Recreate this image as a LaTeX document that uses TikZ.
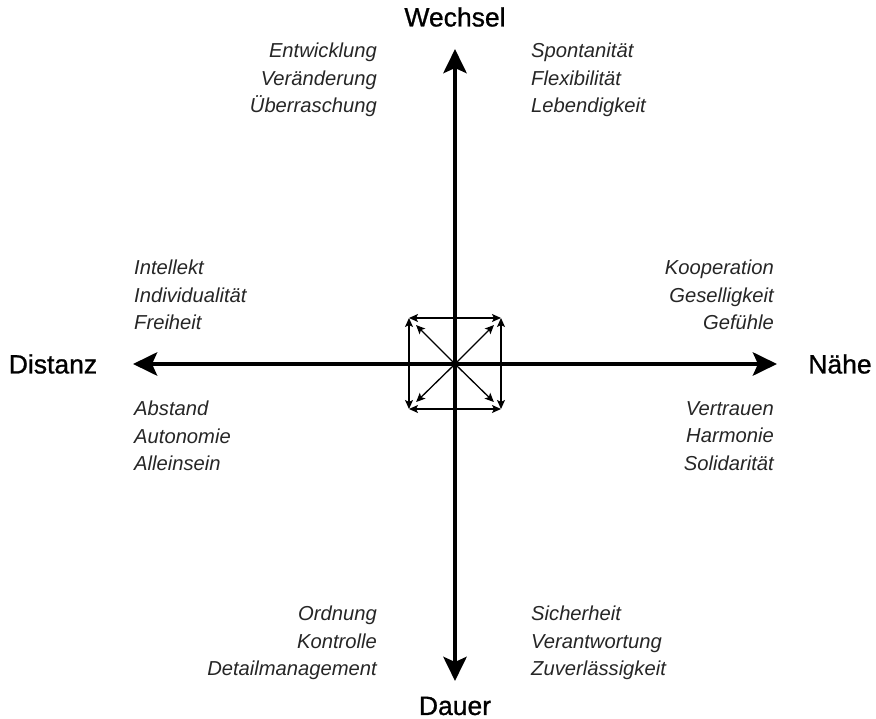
\documentclass[tikz,border=0pt]{standalone}
\usepackage{fontspec}
\setmainfont{Liberation Sans}
\newfontfamily\polefont[FakeBold=0.9]{Liberation Sans}
\usetikzlibrary{arrows.meta}
\begin{document}
\begin{tikzpicture}[x=1pt,y=-1pt,
  axis/.style={line width=4.8pt,-{Stealth[length=24pt,width=23pt,inset=5pt]}},
  small/.style={line width=1.3pt,{Stealth[length=9pt,width=8pt,inset=2pt]}-{Stealth[length=9pt,width=8pt,inset=2pt]}},
  smalldiag/.style={line width=1.3pt,-{Stealth[length=9pt,width=8pt,inset=2pt]}},
  title/.style={font=\polefont\fontsize{26.5}{30}\selectfont, inner sep=0pt},
  words/.style={font=\fontsize{20.2}{27.5}\selectfont\itshape, inner sep=0pt, text=black!85}]
\useasboundingbox (0,0) rectangle (876,719);

% axis ends
\coordinate (c) at (455,364);
\coordinate (top) at (455,49);
\coordinate (bot) at (455,681);
\coordinate (lft) at (133,364);
\coordinate (rgt) at (777,364);

\draw[axis] (c) -- (top);
\draw[axis] (c) -- (bot);
\draw[axis] (c) -- (lft);
\draw[axis] (c) -- (rgt);

% small square of arrows around the centre
\coordinate (tl) at (409,318);
\coordinate (tr) at (501,318);
\coordinate (bl) at (409,409);
\coordinate (br) at (501,409);
\draw[small] (tl) -- (tr);
\draw[small] (bl) -- (br);
\draw[small] (tl) -- (bl);
\draw[small] (tr) -- (br);
\draw[smalldiag, shorten >=10pt] (c) -- (tl);
\draw[smalldiag, shorten >=10pt] (c) -- (tr);
\draw[smalldiag, shorten >=10pt] (c) -- (bl);
\draw[smalldiag, shorten >=10pt] (c) -- (br);

% pole titles
\node[title] (wechsel) at (455,17) {Wechsel};
\node[title] (dauer) at (455,706) {Dauer};
\node[title] (distanz) at (53,364) {Distanz};
\node[title] (naehe) at (840,364) {Nähe};

% quadrant words
\node[words, align=right, anchor=east] (q1) at (377,80) {Entwicklung\\Veränderung\\Überraschung};
\node[words, align=left, anchor=west] (q2) at (531,80) {Spontanität\\Flexibilität\\Lebendigkeit};
\node[words, align=left, anchor=west] (q3) at (134,295) {Intellekt\\Individualität\\Freiheit};
\node[words, align=right, anchor=east] (q4) at (774,295) {Kooperation\\Geselligkeit\\Gefühle};
\node[words, align=left, anchor=west] (q5) at (134,436) {Abstand\\Autonomie\\Alleinsein};
\node[words, align=right, anchor=east] (q6) at (774,436) {Vertrauen\\Harmonie\\Solidarität};
\node[words, align=right, anchor=east] (q7) at (377,643) {Ordnung\\Kontrolle\\Detailmanagement};
\node[words, align=left, anchor=west] (q8) at (531,643) {Sicherheit\\Verantwortung\\Zuverlässigkeit};
\end{tikzpicture}
\end{document}
